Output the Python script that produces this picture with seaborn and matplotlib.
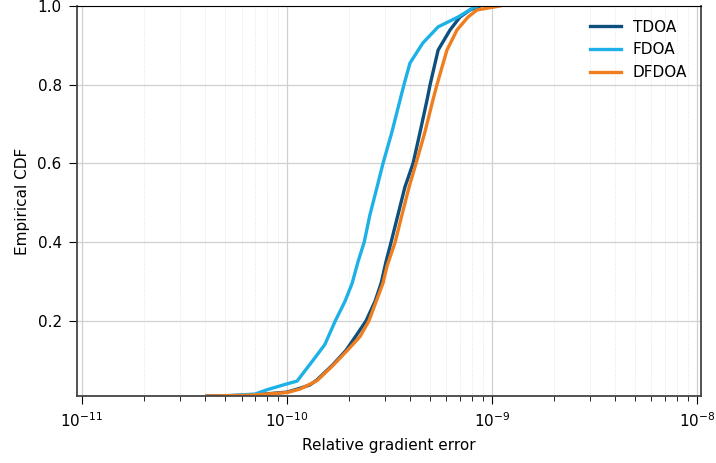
import numpy as np
import pandas as pd
import seaborn as sns
import matplotlib.pyplot as plt
import matplotlib.ticker as mtick

# ----------------------------
# Data
# ----------------------------
tdoa_err = [4.07e-11, 6.6e-11, 1.0e-10, 1.16e-10, 1.29e-10, 1.40e-10, 1.67e-10, 1.94e-10,
            2.19e-10, 2.43e-10, 2.69e-10, 2.88e-10, 3.04e-10, 3.22e-10, 3.48e-10, 3.76e-10,
            4.12e-10, 4.46e-10, 4.82e-10, 4.99e-10, 5.46e-10, 6.24e-10, 6.98e-10, 7.81e-10,
            8.74e-10]
tdoa_cdf = [0.009, 0.011, 0.019, 0.029, 0.037, 0.05, 0.088, 0.125,
            0.165, 0.2, 0.25, 0.296, 0.35, 0.4, 0.47, 0.54,
            0.6, 0.68, 0.761, 0.8, 0.888, 0.939, 0.972, 0.99,
            1.0]

fdoa_err = [4.71e-11, 6.98e-11, 7.98e-11, 1.0e-10, 1.12e-10, 1.34e-10, 1.53e-10, 1.72e-10,
            1.92e-10, 2.08e-10, 2.22e-10, 2.38e-10, 2.54e-10, 2.75e-10, 2.94e-10, 3.25e-10,
            3.56e-10, 3.72e-10, 3.98e-10, 4.60e-10, 5.46e-10, 6.83e-10, 8.07e-10, 8.55e-10]
fdoa_cdf = [0.009, 0.014, 0.025, 0.040, 0.047, 0.10, 0.14, 0.2,
            0.25, 0.296, 0.35, 0.4, 0.47, 0.54, 0.6, 0.68,
            0.761, 0.8, 0.855, 0.906, 0.947, 0.972, 0.995, 1.0]

dfdoa_err = [4.07e-11, 6.6e-11, 1.0e-10, 1.16e-10, 1.40e-10, 1.67e-10, 1.97e-10, 2.27e-10,
             2.51e-10, 2.94e-10, 3.08e-10, 3.37e-10, 3.64e-10, 3.94e-10, 4.26e-10, 4.71e-10,
             5.15e-10, 5.39e-10, 6.03e-10, 6.75e-10, 7.64e-10, 8.45e-10, 1.09e-9]
dfdoa_cdf = [0.009, 0.011, 0.018, 0.027, 0.048, 0.086, 0.125, 0.16,
             0.2, 0.296, 0.34, 0.4, 0.47, 0.54, 0.6, 0.68,
             0.761, 0.8, 0.888, 0.939, 0.972, 0.99, 1.0]

methods = ["TDOA", "FDOA", "DFDOA"]

COLORS = {
    "TDOA": "#0d4f7d",
    "FDOA": "#1db1e8",
    "DFDOA": "#f07d1e",
}

df = pd.concat([
    pd.DataFrame({"err": tdoa_err, "cdf": tdoa_cdf, "method": "TDOA"}),
    pd.DataFrame({"err": fdoa_err, "cdf": fdoa_cdf, "method": "FDOA"}),
    pd.DataFrame({"err": dfdoa_err, "cdf": dfdoa_cdf, "method": "DFDOA"}),
], ignore_index=True)

# ----------------------------
# Plot
# ----------------------------
fig = plt.figure(figsize=(7.16, 4.63), dpi=100)
ax = fig.add_axes([0.1075, 0.145, 0.8715, 0.842])

sns.lineplot(
    data=df, x="err", y="cdf", hue="method", hue_order=methods,
    palette=COLORS, estimator=None, sort=False, linewidth=2.4, ax=ax
)

ax.set_xscale("log")
ax.set_xlim(9.45e-12, 1.046e-8)
ax.set_ylim(0.0095, 1.0)
ax.set_yticks([0.2, 0.4, 0.6, 0.8, 1.0])
ax.xaxis.set_minor_formatter(mtick.NullFormatter())

ax.grid(which="major", color="#d0d0d0", linewidth=0.9)
ax.grid(which="minor", axis="x", color="#e4e4e4", linestyle=":", linewidth=0.7)
ax.set_axisbelow(True)

for side in ["left", "bottom", "right"]:
    ax.spines[side].set_color("#444444")
    ax.spines[side].set_linewidth(1.3)
ax.spines["top"].set_color("black")

ax.tick_params(which="major", labelsize=11, length=6, pad=5)
ax.tick_params(which="minor", length=3.5)
ax.set_xlabel("Relative gradient error", fontsize=11, labelpad=6)
ax.set_ylabel("Empirical CDF", fontsize=11, labelpad=5)

ax.legend(title=None, frameon=False, loc="upper right", fontsize=11)

plt.savefig("out.png", dpi=100)
plt.close()
